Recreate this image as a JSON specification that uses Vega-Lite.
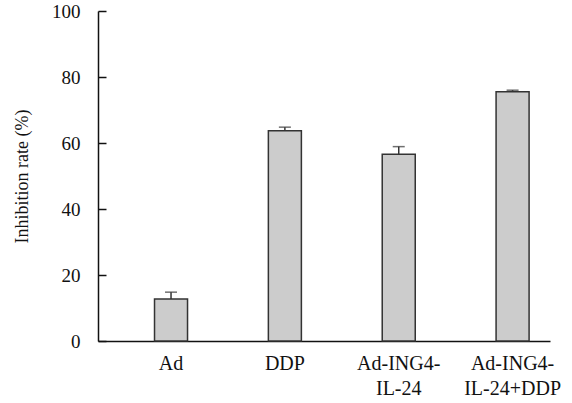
{
  "$schema": "https://vega.github.io/schema/vega-lite/v6.json",
  "width": 452,
  "height": 330,
  "autosize": {"type": "none"},
  "padding": {"left": 98, "top": 11, "right": 22, "bottom": 62},
  "background": "white",
  "config": {
    "view": {"stroke": null},
    "font": "Liberation Serif",
    "axis": {"grid": false, "domainColor": "#111", "tickColor": "#111", "domainWidth": 1.5, "tickWidth": 1.5, "labelColor": "#111", "titleColor": "#111", "labelFont": "Liberation Serif", "titleFont": "Liberation Serif"}
  },
  "data": {
    "values": [
      {"group": "Ad", "rate": 12.7, "upper": 14.8},
      {"group": "DDP", "rate": 63.7, "upper": 64.8},
      {"group": "Ad-ING4-IL-24", "rate": 56.6, "upper": 58.9},
      {"group": "Ad-ING4-IL-24+DDP", "rate": 75.5, "upper": 76.0}
    ]
  },
  "encoding": {
    "x": {
      "field": "group",
      "type": "nominal",
      "sort": null,
      "scale": {"paddingInner": 0.71, "paddingOuter": 0.34, "align": 0.73},
      "axis": {
        "title": null,
        "labelAngle": 0,
        "ticks": false,
        "labelPadding": 12,
        "labelFontSize": 20,
        "labelLineHeight": 25,
        "labelBaseline": "top",
        "labelExpr": "datum.label == 'Ad-ING4-IL-24' ? ['Ad-ING4-', 'IL-24'] : datum.label == 'Ad-ING4-IL-24+DDP' ? ['Ad-ING4-', 'IL-24+DDP'] : datum.label"
      }
    }
  },
  "layer": [
    {
      "mark": {"type": "bar", "fill": "#cccccc", "stroke": "#333333", "strokeWidth": 1.5},
      "encoding": {
        "y": {
          "field": "rate",
          "type": "quantitative",
          "scale": {"domain": [0, 100], "nice": false},
          "axis": {
            "title": "Inhibition rate (%)",
            "titleFontSize": 18,
            "titleFontWeight": "normal",
            "titlePadding": 20,
            "values": [0, 20, 40, 60, 80, 100],
            "tickSize": -8,
            "labelPadding": 26,
            "labelFontSize": 19
          }
        }
      }
    },
    {
      "mark": {"type": "rule", "stroke": "#333333", "strokeWidth": 1.5},
      "encoding": {
        "y": {"field": "rate", "type": "quantitative"},
        "y2": {"field": "upper"}
      }
    },
    {
      "mark": {"type": "tick", "color": "#333333", "thickness": 1.5, "size": 12, "orient": "horizontal"},
      "encoding": {
        "y": {"field": "upper", "type": "quantitative"}
      }
    }
  ]
}
